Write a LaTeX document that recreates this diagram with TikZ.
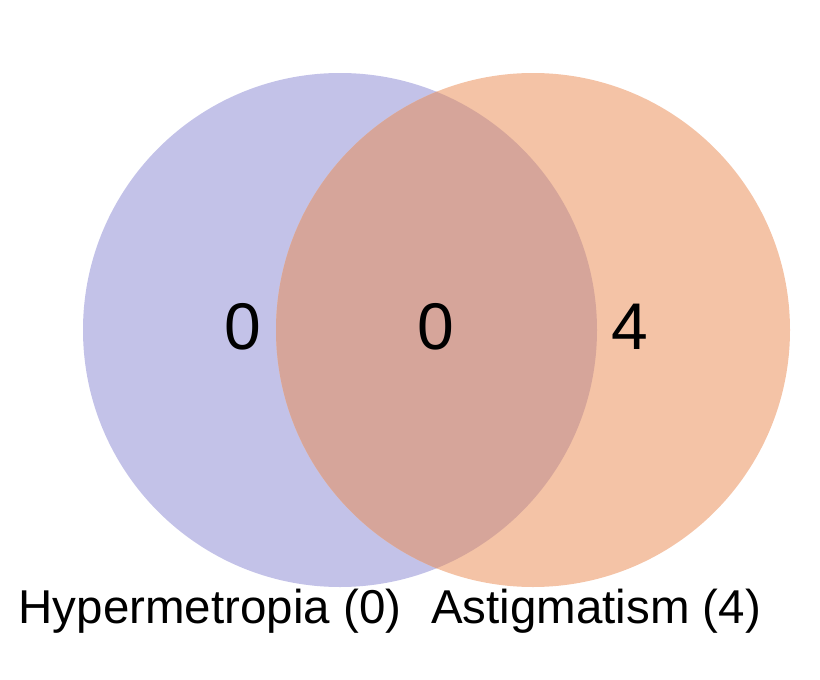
\documentclass[tikz,border=0pt]{standalone}
\usepackage{fontspec}
\setmainfont{Liberation Sans}
\definecolor{lav}{RGB}{195,194,232}
\definecolor{peach}{RGB}{244,195,166}
\definecolor{both}{RGB}{214,165,154}
\tikzset{
  num/.style={font=\fontsize{66}{70}\selectfont, inner sep=0pt, anchor=center},
  lab/.style={font=\fontsize{47.5}{50}\selectfont, inner sep=0pt, anchor=base},
}
\begin{document}
\begin{tikzpicture}[x=1pt,y=-1pt]
\useasboundingbox (0,0) rectangle (820,680);
\fill[lav] (340,330) circle (257);
\fill[peach] (533,330) circle (257);
\begin{scope}
  \clip (340,330) circle (257);
  \fill[both] (533,330) circle (257);
\end{scope}
\node[num] (a) at (243,327) {0};
\node[num] (ab) at (436,327) {0};
\node[num] (b) at (630,327) {4};
\node[lab] (la) at (210,623) {Hypermetropia (0)};
\node[lab] (lb) at (596,623) {Astigmatism (4)};
\end{tikzpicture}
\end{document}
